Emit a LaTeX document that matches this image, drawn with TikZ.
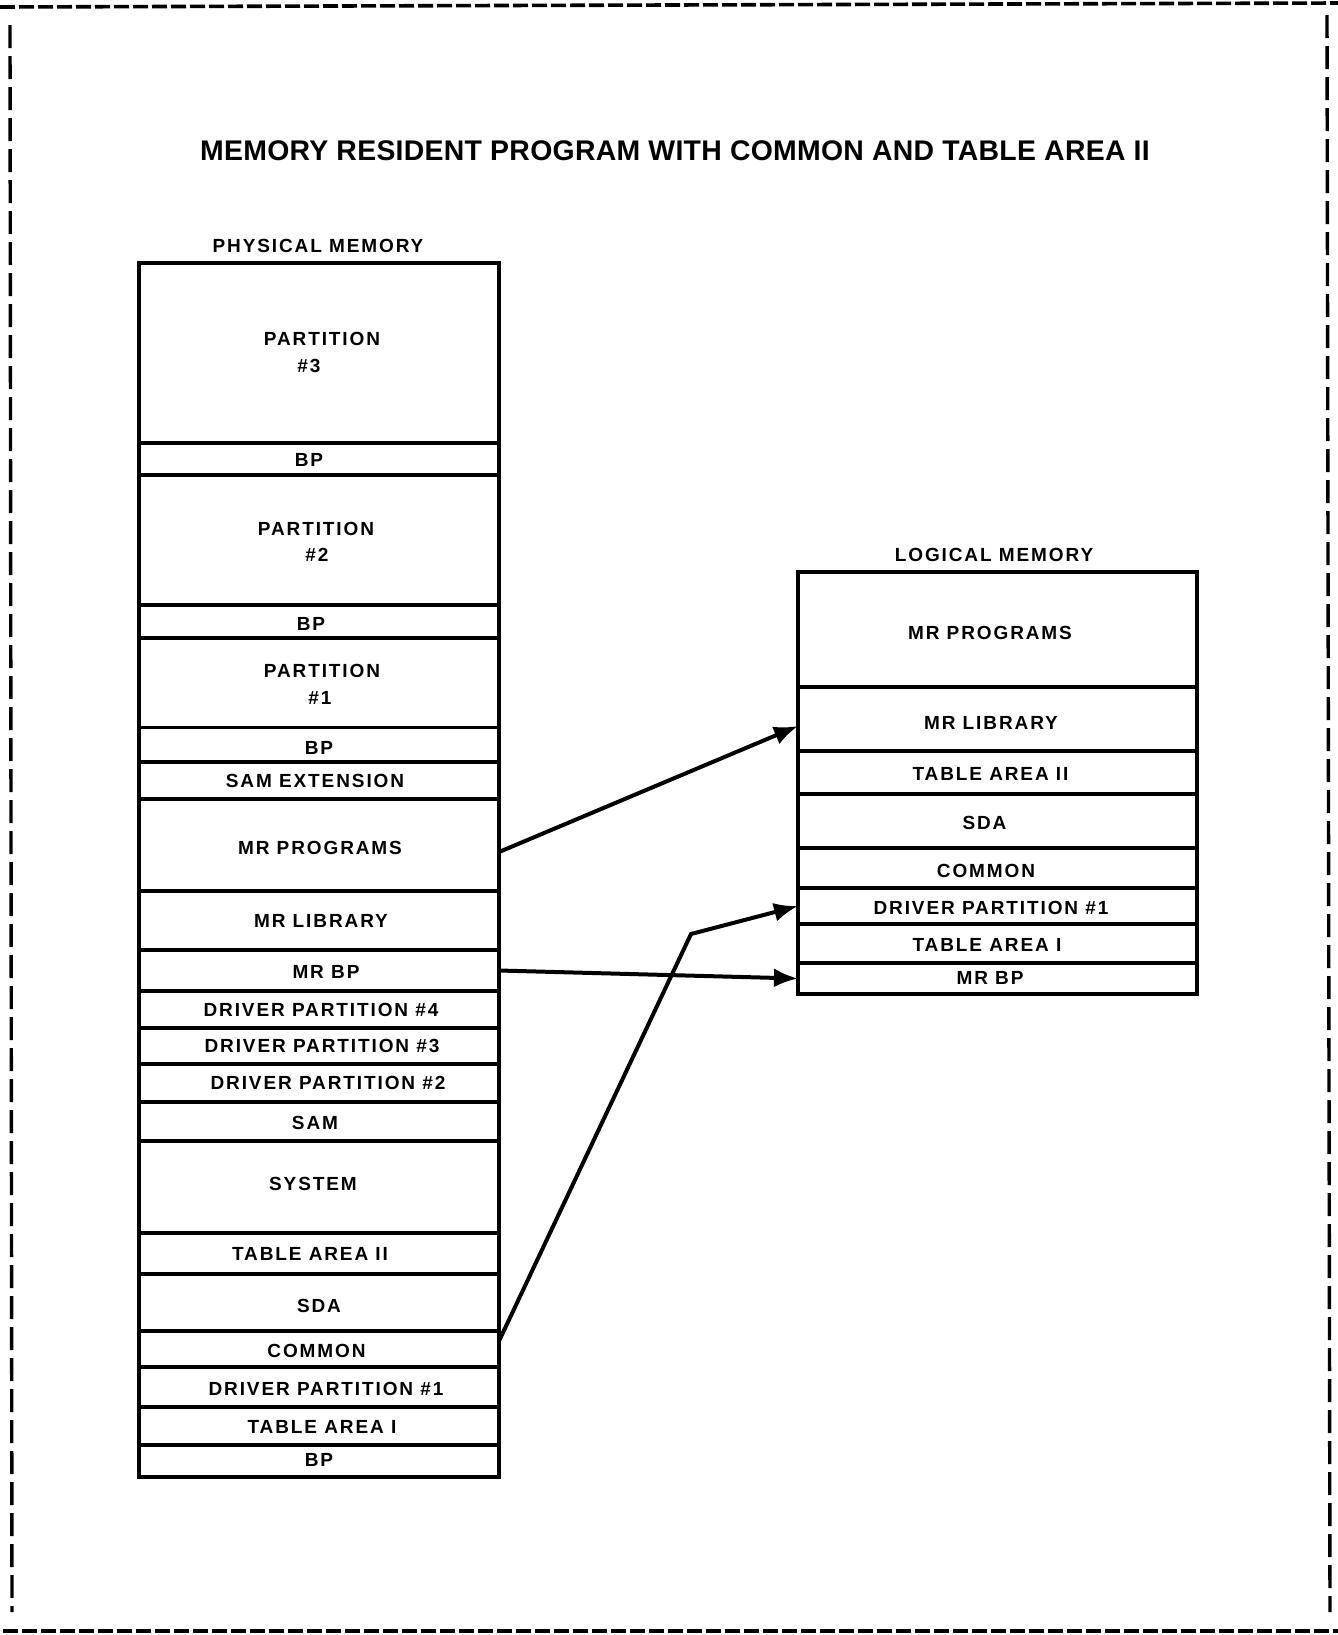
\documentclass[tikz,border=0pt]{standalone}
\usepackage{fontspec}
\setmainfont{Liberation Sans}
\newfontface\lblfont[LetterSpace=10]{Liberation Sans Bold}
\newfontface\ttlfont[LetterSpace=1]{Liberation Sans Bold}
\usetikzlibrary{arrows.meta,calc}

\tikzset{
  row/.style={draw, line width=1.6pt, rectangle, inner sep=0pt, outer sep=0pt},
  lbl/.style={font={\lblfont\fontsize{9.5}{11}\selectfont}, inner sep=0pt},
  head/.style={font={\lblfont\fontsize{9.5}{11}\selectfont}, inner sep=0pt},
  title/.style={font={\ttlfont\fontsize{14.2}{17}\selectfont}, inner sep=0pt},
  outerbox/.style={line width=2.2pt},
  link/.style={line width=2pt, -{Latex[length=12pt,width=9.5pt]}},
  hframe/.style={line width=1.8pt, dash pattern=on 7.5pt off 2pt},
  vframe/.style={line width=1.7pt, dash pattern=on 11.5pt off 4pt}
}

\begin{document}
\begin{tikzpicture}[x=0.5pt,y=-0.5pt]
\useasboundingbox (0,0) rectangle (1338,1635);

% dashed page frame
\draw[hframe] (0,7) -- (1338,3);
\draw[hframe] (3,1631) -- (1338,1631);
\draw[vframe] (10,25) -- (12,1612);
\draw[vframe] (1327,15) -- (1330,1612);

% headings
\node[title] (title) at (675,151) {MEMORY RESIDENT PROGRAM WITH COMMON AND TABLE AREA II};
\node[head] (phead) at (318,246) {PHYSICAL MEMORY};
\node[head] (lhead) at (994,555) {LOGICAL MEMORY};

% physical memory: top / bottom / name / text / label offset
\foreach \t/\b/\n/\s/\dx/\dy in {
  263/443/ppart3/PARTITION/3/-14,
  443/475/pbp3/BP/-10/1,
  475/605/ppart2/PARTITION/-3/-11,
  605/638/pbp2/BP/-8/2.5,
  638/727.5/ppart1/PARTITION/3/-12,
  727.5/762/pbp1/BP/0/3,
  762/799/psamext/SAM EXTENSION/-4/0,
  799/891/pmrprog/MR PROGRAMS/1/3,
  891/950/pmrlib/MR LIBRARY/2/0,
  950/991/pmrbp/MR BP/7/1.5,
  991/1028/pdp4/DRIVER PARTITION \#4/2/0,
  1028/1064/pdp3/DRIVER PARTITION \#3/3/0,
  1064/1102/pdp2/DRIVER PARTITION \#2/9/0,
  1102/1141/psam/SAM/-4/1.5,
  1141/1233/psystem/SYSTEM/-6/-3,
  1233/1274/ptab2/TABLE AREA II/-9/0,
  1274/1331/psda/SDA/0/3.5,
  1331/1367/pcommon/COMMON/-2.5/2,
  1367/1407/pdp1/DRIVER PARTITION \#1/7/2,
  1407/1445/ptab1/TABLE AREA I/3/1,
  1445/1477/pbp0/BP/0/-1}{
  \node[row, minimum width=180pt, minimum height={(\b-\t)*0.5pt}] (\n) at (319,{(\t+\b)/2}) {};
  \node[lbl] (\n-t) at ([shift={(\dx,\dy)}]\n.center) {\s};
}
\node[lbl] (ppart3-n) at (309,366) {\#3};
\node[lbl] (ppart2-n) at (317,555) {\#2};
\node[lbl] (ppart1-n) at (320,697.5) {\#1};
\draw[outerbox] (ppart3.north west) rectangle (pbp0.south east);

% logical memory
\foreach \t/\b/\n/\s/\dx/\dy in {
  572/687/lmrprog/MR PROGRAMS/-7.5/3.5,
  687/751/lmrlib/MR LIBRARY/-6.5/4,
  751/794/ltab2/TABLE AREA II/-7/1.5,
  794/848/lsda/SDA/-13/2,
  848/888/lcommon/COMMON/-11.5/3,
  888/924/ldp1/DRIVER PARTITION \#1/-6.5/2,
  924/963/ltab1/TABLE AREA I/-10.5/1.5,
  963/994/lmrbp/MR BP/-7.5/-0.5}{
  \node[row, minimum width=199.5pt, minimum height={(\b-\t)*0.5pt}] (\n) at (997.5,{(\t+\b)/2}) {};
  \node[lbl] (\n-t) at ([shift={(\dx,\dy)}]\n.center) {\s};
}
\draw[outerbox] (lmrprog.north west) rectangle (lmrbp.south east);

% mappings from physical to logical memory
\coordinate (bend) at (691,934);
\draw[link] ([yshift=-3.5pt]pmrprog.east) -- ([yshift=-3.5pt]lmrlib.west);
\draw[link] (pmrbp.east) -- (lmrbp.west);
\draw[link] ([yshift=4pt]pcommon.east) -- (bend) -- (ldp1.west);
\end{tikzpicture}
\end{document}
